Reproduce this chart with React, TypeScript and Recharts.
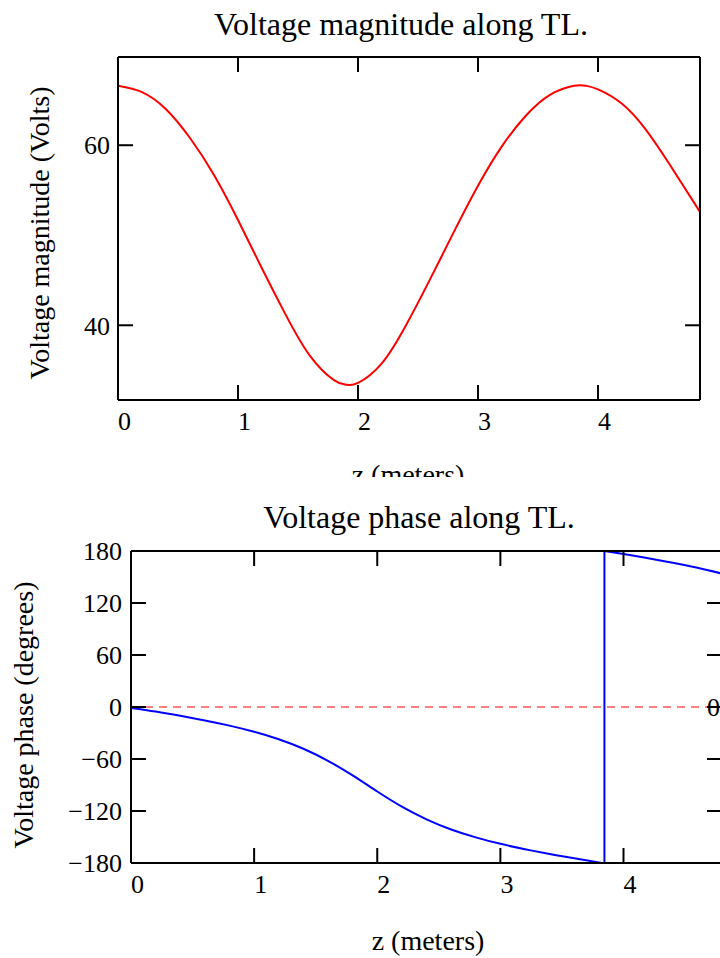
import React from 'react';
import { LineChart, Line, XAxis, YAxis, ReferenceLine } from 'recharts';

const FONT = '"Liberation Serif", "Times New Roman", serif';

// voltage magnitude along the line
const magZ = [0, 0.2, 0.4, 0.6, 0.8, 1.0, 1.2, 1.4, 1.6, 1.8, 1.9, 2.0, 2.2, 2.4, 2.6, 2.8, 3.0, 3.2, 3.4, 3.6, 3.8, 3.9, 4.0, 4.2, 4.4, 4.6, 4.85];
const magVolts = [66.6, 65.9, 64.0, 60.8, 56.7, 51.7, 46.3, 41.1, 36.6, 33.9, 33.4, 33.6, 35.8, 40.0, 45.1, 50.4, 55.5, 59.9, 63.3, 65.6, 66.6, 66.6, 66.2, 64.6, 61.7, 57.8, 52.6];

// voltage phase, before and after the wrap at -180/180
const phaseZBefore = [0, 0.2, 0.4, 0.6, 0.8, 1.0, 1.2, 1.4, 1.6, 1.8, 2.0, 2.2, 2.4, 2.6, 2.8, 3.0, 3.2, 3.4, 3.6, 3.8, 3.845];
const phaseBefore = [-1, -5.2, -10.1, -15.5, -21.5, -28.6, -37.2, -48.2, -62.1, -79, -97.5, -115, -129.6, -141.3, -150.4, -157.9, -164.1, -169.6, -174.6, -179.3, -180];
const phaseZAfter = [3.845, 4.0, 4.2, 4.4, 4.6, 4.8];
const phaseAfter = [180, 176.5, 171.6, 166.4, 160.6, 153.9];
const wrapZ = [3.845, 3.845];
const wrapPhase = [-180, 180];

const zTicks = [0, 1, 2, 3, 4];
const magTicks = [40, 60];
const phaseTicks = [-180, -120, -60, 0, 60, 120, 180];

const magData = magZ.map((z, i) => ({ z, v: magVolts[i] }));
const beforeData = phaseZBefore.map((z, i) => ({ z, p: phaseBefore[i] }));
const afterData = phaseZAfter.map((z, i) => ({ z, p: phaseAfter[i] }));
const wrapData = wrapZ.map((z, i) => ({ z, p: wrapPhase[i] }));

const axisLine = { stroke: '#000', strokeWidth: 2 };
const tickLine = { stroke: '#000', strokeWidth: 2 };
const tickText = { fontSize: 26, fill: '#000', fontFamily: FONT };
const blank = () => '';
const minus = (v: number) => (v < 0 ? `\u2212${Math.abs(v)}` : String(v));

const textStyle: React.CSSProperties = {
    position: 'absolute',
    fontFamily: FONT,
    color: '#000',
    whiteSpace: 'nowrap',
    textAlign: 'center',
};

export default function App() {
    return (
        <div style={{ position: 'absolute', left: 0, top: 0, width: 720, height: 958, overflow: 'hidden', background: '#fff' }}>
            <div style={{ ...textStyle, left: 101, width: 600, top: 8, fontSize: 32, lineHeight: '32px' }}>
                Voltage magnitude along TL.
            </div>
            <div style={{ ...textStyle, left: -160.5, width: 400, top: 219, fontSize: 28, lineHeight: '28px', transform: 'rotate(-90deg)' }}>
                Voltage magnitude (Volts)
            </div>

            <div style={{ position: 'absolute', left: 0, top: 0, width: 720, height: 477, overflow: 'hidden' }}>
                <LineChart width={720} height={477} data={magData} margin={{ top: 56, right: 19, bottom: 0, left: 0 }}>
                    <XAxis
                        dataKey="z"
                        type="number"
                        domain={[0, 4.85]}
                        ticks={zTicks}
                        allowDataOverflow
                        height={77}
                        tickSize={-15}
                        tickMargin={27}
                        axisLine={axisLine}
                        tickLine={tickLine}
                        tick={{ ...tickText, textAnchor: 'start' }}
                    />
                    <XAxis
                        xAxisId="top"
                        orientation="top"
                        dataKey="z"
                        type="number"
                        domain={[0, 4.85]}
                        ticks={zTicks}
                        allowDataOverflow
                        height={1}
                        tickSize={-15}
                        axisLine={axisLine}
                        tickLine={tickLine}
                        tickFormatter={blank}
                    />
                    <YAxis
                        type="number"
                        domain={[31.7, 69.8]}
                        ticks={magTicks}
                        allowDataOverflow
                        width={118}
                        tickSize={-15}
                        tickMargin={23}
                        axisLine={axisLine}
                        tickLine={tickLine}
                        tick={tickText}
                    />
                    <YAxis
                        yAxisId="right"
                        orientation="right"
                        type="number"
                        domain={[31.7, 69.8]}
                        ticks={magTicks}
                        allowDataOverflow
                        width={1}
                        tickSize={-15}
                        axisLine={axisLine}
                        tickLine={tickLine}
                        tickFormatter={blank}
                    />
                    <Line xAxisId="top" yAxisId="right" dataKey="v" stroke="none" strokeOpacity={0} dot={false} activeDot={false} isAnimationActive={false} />
                    <Line dataKey="v" type="natural" stroke="#ff0000" strokeWidth={2} dot={false} activeDot={false} isAnimationActive={false} />
                </LineChart>
                <div style={{ ...textStyle, left: 208, width: 400, top: 461, fontSize: 28, lineHeight: '28px' }}>
                    z (meters)
                </div>
            </div>

            <div style={{ ...textStyle, left: 119, width: 600, top: 501, fontSize: 32, lineHeight: '32px' }}>
                Voltage phase along TL.
            </div>
            <div style={{ ...textStyle, left: -176.5, width: 400, top: 701, fontSize: 28, lineHeight: '28px', transform: 'rotate(-90deg)' }}>
                Voltage phase (degrees)
            </div>

            <div style={{ position: 'absolute', left: 0, top: 480, width: 720, height: 478, overflow: 'hidden' }}>
                <LineChart width={742} height={478} margin={{ top: 70, right: 19, bottom: 0, left: 0 }}>
                    <XAxis
                        dataKey="z"
                        type="number"
                        domain={[0, 4.8]}
                        ticks={zTicks}
                        allowDataOverflow
                        height={95}
                        tickSize={-15}
                        tickMargin={27}
                        axisLine={axisLine}
                        tickLine={tickLine}
                        tick={{ ...tickText, textAnchor: 'start' }}
                    />
                    <XAxis
                        xAxisId="top"
                        orientation="top"
                        dataKey="z"
                        type="number"
                        domain={[0, 4.8]}
                        ticks={zTicks}
                        allowDataOverflow
                        height={1}
                        tickSize={-15}
                        axisLine={axisLine}
                        tickLine={tickLine}
                        tickFormatter={blank}
                    />
                    <YAxis
                        type="number"
                        domain={[-180, 180]}
                        ticks={phaseTicks}
                        allowDataOverflow
                        width={131}
                        tickSize={-15}
                        tickMargin={24}
                        axisLine={axisLine}
                        tickLine={tickLine}
                        tick={tickText}
                        tickFormatter={minus}
                    />
                    <YAxis
                        yAxisId="right"
                        orientation="right"
                        type="number"
                        domain={[-180, 180]}
                        ticks={phaseTicks}
                        allowDataOverflow
                        width={1}
                        tickSize={-15}
                        axisLine={axisLine}
                        tickLine={tickLine}
                        tickFormatter={blank}
                    />
                    <ReferenceLine y={0} stroke="#ff8080" strokeWidth={2} strokeDasharray="8 6" />
                    <Line data={afterData} xAxisId="top" yAxisId="right" dataKey="p" stroke="none" strokeOpacity={0} dot={false} activeDot={false} isAnimationActive={false} />
                    <Line data={beforeData} dataKey="p" type="natural" stroke="#0000ff" strokeWidth={2} dot={false} activeDot={false} isAnimationActive={false} />
                    <Line data={wrapData} dataKey="p" type="linear" stroke="#0000ff" strokeWidth={2} dot={false} activeDot={false} isAnimationActive={false} />
                    <Line data={afterData} dataKey="p" type="natural" stroke="#0000ff" strokeWidth={2} dot={false} activeDot={false} isAnimationActive={false} />
                </LineChart>
            </div>

            <div style={{ ...textStyle, left: 707, top: 695, fontSize: 26, lineHeight: '26px', textAlign: 'left' }}>
                0
            </div>
            <div style={{ ...textStyle, left: 228, width: 400, top: 927, fontSize: 28, lineHeight: '28px' }}>
                z (meters)
            </div>
        </div>
    );
}
